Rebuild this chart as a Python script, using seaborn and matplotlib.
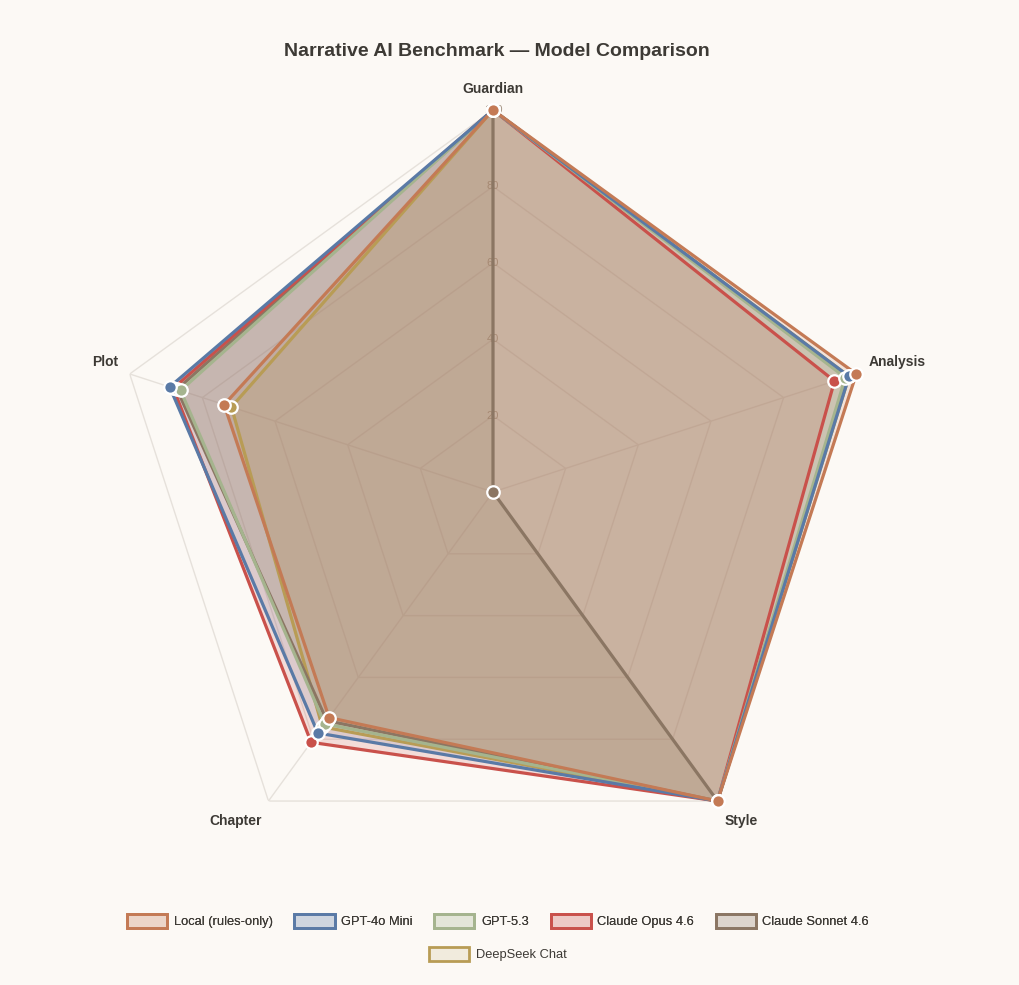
import numpy as np
import pandas as pd
import matplotlib
matplotlib.use("Agg")
import matplotlib.pyplot as plt
import seaborn as sns
from matplotlib.patches import Patch

# ---- data ----
axis_labels = ["Guardian", "Analysis", "Style", "Chapter", "Plot"]
models = ["Local (rules-only)", "GPT-4o Mini", "GPT-5.3", "Claude Opus 4.6",
          "Claude Sonnet 4.6", "DeepSeek Chat"]
local_vals = [100, 100, 100, 73, 74]
gpt4o_vals = [100, 98, 100, 78, 89]
gpt53_vals = [100, 97, 100, 75, 86]
opus_vals = [100, 94, 100, 81, 88]
sonnet_vals = [100, 0, 100, 74, 87]
deepseek_vals = [100, 98, 100, 76, 72]
radial_ticks = [20, 40, 60, 80, 100]

colors = ["#c47a55", "#5a7aa6", "#a5b48e", "#c9514b", "#8b7663", "#b89c55"]
series = [local_vals, gpt4o_vals, gpt53_vals, opus_vals, sonnet_vals, deepseek_vals]

bg = "#fcf9f5"
sns.set_theme(style="white")
plt.rcParams["font.family"] = ["Liberation Sans", "DejaVu Sans"]

fig = plt.figure(figsize=(10.19, 9.85), dpi=100, facecolor=bg)
ax = fig.add_axes([0.1089, 0.1127, 0.7498, 0.7756], projection="polar")
ax.set_facecolor("none")
ax.set_theta_offset(np.pi / 2)
ax.set_theta_direction(-1)
ax.set_ylim(0, 100)
ax.grid(False)
ax.spines["polar"].set_visible(False)
ax.set_xticks([])
ax.set_yticks([])

n = len(axis_labels)
theta = np.arange(n) * 2 * np.pi / n
theta_closed = np.append(theta, theta[0])

# polygon grid
grid_c = "#e6e1db"
for r in radial_ticks:
    ax.plot(theta_closed, [r] * (n + 1), color=grid_c, lw=1, zorder=1)
for t in theta:
    ax.plot([t, t], [0, 100], color=grid_c, lw=1, zorder=1)
for r in radial_ticks:
    ax.text(0, r, str(r), ha="center", va="center", fontsize=8,
            color="#a89888", zorder=1.5)

# series (first model on top)
for i in reversed(range(len(models))):
    vals = series[i]
    c = colors[i]
    df = pd.DataFrame({"theta": theta_closed, "value": list(vals) + [vals[0]]})
    ax.fill(df["theta"], df["value"], color=c, alpha=0.17, lw=0, zorder=2 + i * 0.01)
    sns.lineplot(data=df, x="theta", y="value", sort=False, estimator=None,
                 color=c, lw=2.3, ax=ax, zorder=5 + (len(models) - i),
                 legend=False)
    ax.plot(theta, vals, linestyle="none", marker="o", markersize=9,
            markerfacecolor=c, markeredgecolor="white", markeredgewidth=1.6,
            zorder=20 + (len(models) - i), clip_on=False)
ax.set_xlabel("")
ax.set_ylabel("")
ax.set_ylim(0, 100)
ax.set_xticks([])
ax.set_yticks([])

# axis labels
label_offsets = [(0, 15), (29.5, 8.6), (17.3, -14.4), (-23.8, -14.4), (-18, 8.6)]
for t, lab, off in zip(theta, axis_labels, label_offsets):
    ax.annotate(lab, xy=(t, 100), xytext=off, textcoords="offset points",
                ha="center", va="center", fontsize=10, fontweight="bold",
                color="#3d3a35", annotation_clip=False)

fig.text(0.488, 1 - 52 / 985, "Narrative AI Benchmark \u2014 Model Comparison",
         ha="center", va="center", fontsize=14, fontweight="bold", color="#3d3a35")

handles = [Patch(facecolor=matplotlib.colors.to_rgba(c, 0.15), edgecolor=c, lw=2)
           for c in colors]
leg1 = fig.legend(handles[:5], models[:5], loc="center", ncol=5,
                  bbox_to_anchor=(0.4887, 1 - 921 / 985), frameon=False,
                  fontsize=9.3, handlelength=3.1, handleheight=1.3,
                  columnspacing=1.7, handletextpad=0.5, labelcolor="#3d3a35")
leg2 = fig.legend(handles[5:], models[5:], loc="center", ncol=1,
                  bbox_to_anchor=(0.4887, 1 - 954 / 985), frameon=False,
                  fontsize=9.3, handlelength=3.1, handleheight=1.3,
                  handletextpad=0.5, labelcolor="#3d3a35")
fig.add_artist(leg1)

fig.savefig("out.png", dpi=100, facecolor=bg)
